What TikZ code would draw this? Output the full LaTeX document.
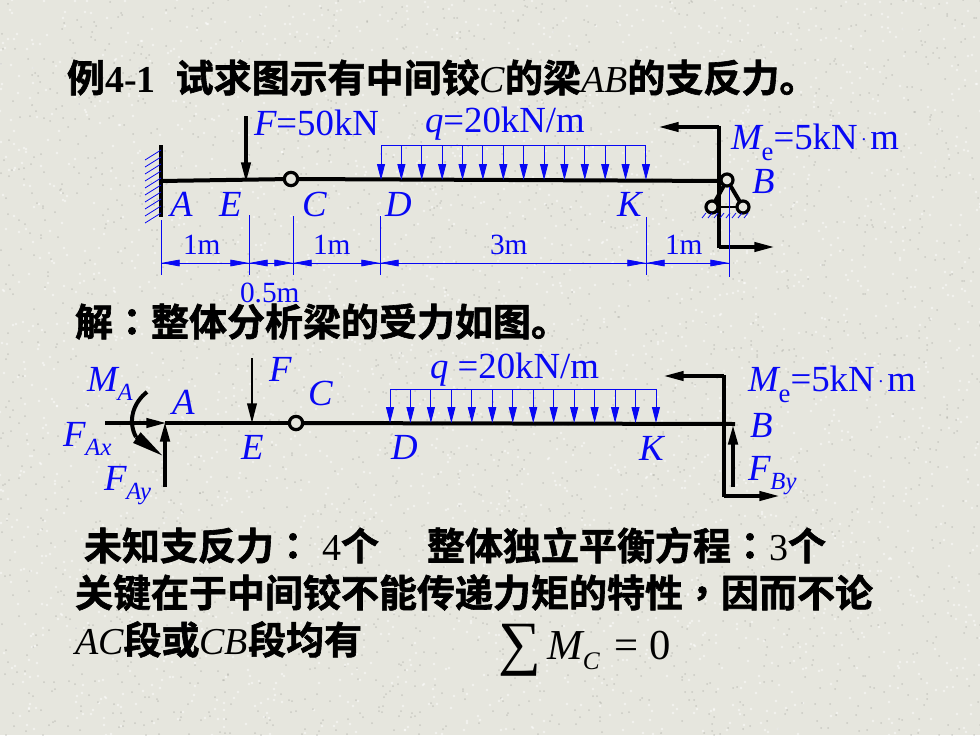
\documentclass[tikz,border=0pt]{standalone}
\usepackage{fontspec}
\setmainfont{Liberation Serif}
\newfontfamily\cjk[BoldFont={* Bold},BoldFeatures={FakeBold=1.6}]{Noto Sans CJK SC}
\newfontfamily\cjkp[BoldFont={* Bold},BoldFeatures={FakeBold=1.6}]{Noto Sans CJK TC}
\usetikzlibrary{arrows.meta,calc}
\definecolor{bgc}{HTML}{E6E6DE}
\definecolor{bluec}{HTML}{0808F4}
\newcommand{\bigtxt}{\fontsize{27.6}{30}\selectfont}
\newcommand{\headtxt}{\fontsize{28.5}{30}\selectfont}
\newcommand{\smalltxt}{\fontsize{22}{24}\selectfont}
\newcommand{\cj}[1]{{\cjk\bfseries #1}}
\newcommand{\cp}[1]{{\cjkp\bfseries #1}}
\newcommand{\lt}[1]{{\itshape #1}}
\newcommand{\sub}[1]{\raisebox{-0.26em}{\fontsize{18.5}{20}\selectfont\itshape #1}}
\newcommand{\subr}[1]{\raisebox{-0.3em}{\fontsize{20}{20}\selectfont #1}}
\newcommand{\med}{\raisebox{0.22em}{\fontsize{14}{14}\selectfont\hspace{3pt}.\hspace{3pt}}}
\tikzset{
 x=0.75pt,y=-0.75pt,
 lab/.style={anchor=base west,inner sep=0pt,outer sep=0pt,text=bluec,font=\bigtxt},
 dimlab/.style={anchor=base west,inner sep=0pt,outer sep=0pt,text=bluec,font=\smalltxt},
 head/.style={anchor=base west,inner sep=0pt,outer sep=0pt,text=black,font=\headtxt},
 beam/.style={line width=3pt,black},
 force/.style={line width=2.4pt,black,-{Stealth[length=15pt,width=7pt,inset=0pt]},shorten >=-1pt},
 loadtop/.style={line width=0.7pt,bluec},
 loadarrow/.style={line width=0.7pt,bluec,-{Stealth[length=12pt,width=6pt,inset=0pt]}},
 dimline/.style={line width=0.6pt,bluec},
 dimtip/.style={line width=0.6pt,bluec,-{Stealth[length=14pt,width=5pt,inset=0pt]}},
 ext/.style={line width=0.6pt,bluec},
 hinge/.style={circle,draw=black,fill=bgc,line width=2.4pt,minimum size=10pt,inner sep=0pt,outer sep=0pt},
 hatch/.style={line width=0.6pt,bluec},
}
\begin{document}
\begin{tikzpicture}
\useasboundingbox (0,0) rectangle (980,735);
\fill[bgc] (0,0) rectangle (980,735);
% speckled paper
\pgfmathsetseed{42}
\foreach \i in {1,...,2600}{
 \pgfmathsetmacro{\px}{random(0,980)}
 \pgfmathsetmacro{\py}{random(0,735)}
 \fill[white,opacity=.5] (\px,\py) circle[radius=1.3];
 \pgfmathsetmacro{\qx}{random(0,980)}
 \pgfmathsetmacro{\qy}{random(0,735)}
 \fill[black!40!bgc,opacity=.3] (\qx,\qy) circle[radius=1];
}
% headings
\node[head] (title) at (67,92) {\cj{例}\textbf{4-1}\hspace{15pt}\cj{试求图示有中间铰}\lt{C}\cj{的梁}\lt{AB}\cj{的支反力。}};
\node[head] (sol) at (75,336) {\cj{解}\cp{：}\cj{整体分析梁的受力如图。}};
\node[head] (l1) at (84,560) {\cj{未知支反力}\cp{：}\hspace{7.5pt}4\cj{个}\hspace{36pt}\cj{整体独立平衡方程}\cp{：}3\cj{个}};
\node[head] (l2) at (75,607) {\cj{关键在于中间铰不能传递力矩的特性}\cp{，}\cj{因而不论}};
\node[head] (l3) at (75,654) {\lt{AC}\cj{段或}\lt{CB}\cj{段均有}};
\node[head,font=\fontsize{32}{34}\selectfont] (eq) at (498,659) {\raisebox{-3pt}{\fontsize{45}{45}\selectfont ∑}\hspace{5pt}\lt{M}\raisebox{-8pt}{\fontsize{19}{20}\selectfont\itshape C}\hspace{11pt}=\hspace{8pt}0};

% ---------- first diagram
\coordinate (wt) at (161,145); \coordinate (wb) at (161,217);
\coordinate (Ab) at (161,181); \coordinate (Bb) at (727,181);
\node[hinge] (hc) at (291,179) {};
\draw[beam] (wt) -- (wb);
\foreach \yy in {150,157,...,213}{\draw[hatch] (161,\yy) -- (145,\yy+10);}
\draw[beam] (Ab) -- (hc);
\draw[beam] (hc) -- (Bb);
\coordinate (Ft) at (246,116); \coordinate (Fe) at (246,181);
\draw[force] (Ft) -- (Fe);
% load 1
\coordinate (q1a) at (381,145); \coordinate (q1b) at (646,145);
\draw[loadtop] (q1a) -- (q1b);
\foreach \k in {0,...,13}{
 \draw[loadarrow] ($(q1a)+(\k*20.38,0)$) -- ($(q1a)+(\k*20.38,35)$);
}
% couple 1
\coordinate (m1a) at (660,127); \coordinate (m1b) at (719,127);
\coordinate (m1c) at (719,247); \coordinate (m1d) at (773,247);
\draw[beam] ($(m1c)+(0,1)$) -- ($(m1b)+(0,-1)$);
\draw[force] (m1b) -- (m1a);
\draw[force] (m1c) -- (m1d);
% support
\coordinate (pb) at (727,180);\coordinate (pl) at (712,207);\coordinate (pr) at (743,207);
\draw[beam] (pb) -- (pl);
\draw[beam] (pb) -- (pr);
\draw[line width=2pt] (pl) -- (pr);
\node[hinge,minimum size=9pt] (hb) at (pb) {};
\node[hinge,minimum size=9pt] (hl) at (pl) {};
\node[hinge,minimum size=9pt] (hr) at (pr) {};
\foreach \xx in {706,712,...,750}{\draw[hatch] (\xx,213) -- (\xx-4,218);}
% dimensions
\foreach \xx/\ya/\yb in {161/220/275,249/215/275,293/216/275,380/216/275,646/217/275,729/187/277}{
 \draw[ext] (\xx,\ya) -- (\xx,\yb);
}
\coordinate (d0) at (161,263);\coordinate (d1) at (249,263);\coordinate (d2) at (293,263);
\coordinate (d3) at (380,263);\coordinate (d4) at (646,263);\coordinate (d5) at (729,263);
\draw[dimline] (d0) -- (d5);
\draw[dimtip] ($(d0)+(21,0)$) -- (d0);
\draw[dimtip] ($(d1)+(-21,0)$) -- (d1);
\draw[dimtip] ($(d1)+(19,0)$) -- (d1);
\draw[dimtip] ($(d2)+(-21,0)$) -- (d2);
\draw[dimtip] ($(d2)+(17,0)$) -- (d2);
\draw[dimtip] ($(d3)+(-20,0)$) -- (d3);
\draw[dimtip] ($(d3)+(18,0)$) -- (d3);
\draw[dimtip] ($(d4)+(-21,0)$) -- (d4);
\draw[dimtip] ($(d4)+(17,0)$) -- (d4);
\draw[dimtip] ($(d5)+(-21,0)$) -- (d5);
% labels 1
\node[lab] (tF) at (254,135) {\lt{F}=50kN};
\node[lab] (tq) at (425,132) {\lt{q}=20kN/m};
\node[lab] (tMe) at (731,149) {\lt{M}\subr{e}=5kN\med m};
\node[lab] (tB) at (752,193) {\lt{B}};
\node[lab] (tA) at (170,216) {\lt{A}};
\node[lab] (tE) at (219,216) {\lt{E}};
\node[lab] (tC) at (302,216) {\lt{C}};
\node[lab] (tD) at (385,216) {\lt{D}};
\node[lab] (tK) at (617,216) {\lt{K}};
\node[dimlab] (d1m) at (183,254) {1m};
\node[dimlab] (d2m) at (313,254) {1m};
\node[dimlab] (d3m) at (490,254) {3m};
\node[dimlab] (d4m) at (665,254) {1m};
\node[dimlab] (d5m) at (240,302) {0.5m};

% ---------- second diagram
\coordinate (a2) at (165,423); \coordinate (b2) at (735,424);
\node[hinge] (hc2) at (296,423) {};
\draw[beam] (a2) -- (hc2);
\draw[beam] (hc2) -- (b2);
\coordinate (fax) at (105,423);
\draw[force] (fax) -- (a2);
\coordinate (fay) at (165,487);
\draw[force,line width=2.8pt] (fay) -- (a2);
\coordinate (F2) at (252,358); \coordinate (F2e) at (252,422);
\draw[force,line width=2pt] (F2) -- (F2e);
\coordinate (ma) at (147,392); \coordinate (mc) at (136,437); \coordinate (mb) at (163,456);
\draw[line width=3pt] (ma) .. controls (134,402) and (127,420) .. (mc);
\draw[line width=2.6pt,-{Stealth[length=24pt,width=9pt,inset=0pt]}] (mc) -- (mb);
\coordinate (q2a) at (390,389); \coordinate (q2b) at (656,389);
\draw[loadtop] (q2a) -- (q2b);
\foreach \k in {0,...,13}{
 \draw[loadarrow] ($(q2a)+(\k*20.46,0)$) -- ($(q2a)+(\k*20.46,34)$);
}
\coordinate (m2a) at (665,376); \coordinate (m2b) at (724,376);
\coordinate (m2c) at (724,496); \coordinate (m2d) at (778,496);
\draw[beam] ($(m2c)+(0,1)$) -- ($(m2b)+(0,-1)$);
\draw[force] (m2b) -- (m2a);
\draw[force] (m2c) -- (m2d);
\coordinate (fby) at (733,487); \coordinate (fbe) at (733,426);
\draw[force,line width=2.8pt] (fby) -- (fbe);
% labels 2
\node[lab] (uMA) at (87,391) {\lt{M}\sub{A}};
\node[lab] (uFx) at (63,446) {\lt{F}\sub{Ax}};
\node[lab] (uFy) at (104,490) {\lt{F}\sub{Ay}};
\node[lab] (uA) at (172,414) {\lt{A}};
\node[lab] (uF) at (269,381) {\lt{F}};
\node[lab] (uC) at (308,405) {\lt{C}};
\node[lab] (uE) at (241,459) {\lt{E}};
\node[lab] (uD) at (391,459) {\lt{D}};
\node[lab] (uq) at (430,378) {\lt{q} =20kN/m};
\node[lab] (uK) at (639,460) {\lt{K}};
\node[lab] (uMe) at (748,391) {\lt{M}\subr{e}=5kN\med m};
\node[lab] (uB) at (750,437) {\lt{B}};
\node[lab] (uFB) at (748,480) {\lt{F}\sub{By}};
\end{tikzpicture}
\end{document}
